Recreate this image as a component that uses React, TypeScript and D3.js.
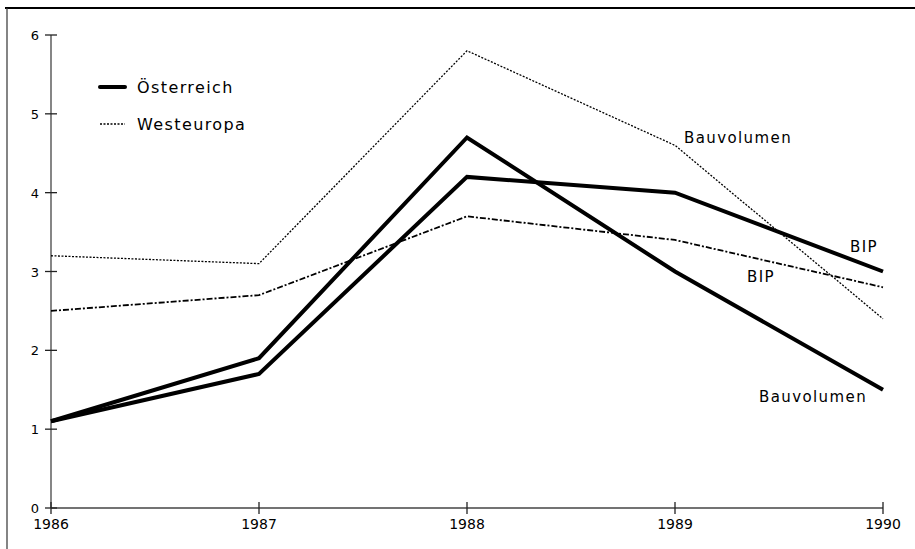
import React, { useEffect, useRef } from 'react';
import * as d3 from 'd3';

const years = [1986, 1987, 1988, 1989, 1990];
const yTicks = [0, 1, 2, 3, 4, 5, 6];
const atBau = [1.1, 1.9, 4.7, 3.0, 1.5];
const atBip = [1.1, 1.7, 4.2, 4.0, 3.0];
const weBau = [3.2, 3.1, 5.8, 4.6, 2.4];
const weBip = [2.5, 2.7, 3.7, 3.4, 2.8];

const FONT = '"DejaVu Sans", sans-serif';

export default function App() {
  const svgRef = useRef<SVGSVGElement | null>(null);

  useEffect(() => {
    if (!svgRef.current) return;
    const svg = d3.select(svgRef.current);
    svg.selectAll('*').remove();

    const x = d3.scaleLinear().domain([1986, 1990]).range([51, 883]);
    const y = d3.scaleLinear().domain([0, 6]).range([508, 35]);

    // frame
    svg.append('line').attr('x1', 5).attr('x2', 915).attr('y1', 8).attr('y2', 8)
      .attr('stroke', '#000').attr('stroke-width', 2.2);
    svg.append('line').attr('x1', 7).attr('x2', 7).attr('y1', 8).attr('y2', 549)
      .attr('stroke', '#333').attr('stroke-width', 1.2);

    // axes
    const g = svg.append('g');
    g.append('line').attr('x1', x(1986)).attr('x2', x(1990)).attr('y1', y(0)).attr('y2', y(0))
      .attr('stroke', '#444').attr('stroke-width', 1.3);
    g.append('line').attr('x1', x(1986)).attr('x2', x(1986)).attr('y1', y(0)).attr('y2', y(6))
      .attr('stroke', '#444').attr('stroke-width', 1.3);

    yTicks.forEach((t) => {
      g.append('line')
        .attr('x1', x(1986) - 6).attr('x2', x(1986) + 6)
        .attr('y1', y(t)).attr('y2', y(t)).attr('stroke', '#222').attr('stroke-width', 1.3);
      g.append('text').attr('x', 39).attr('y', y(t) + 5).attr('text-anchor', 'end')
        .attr('font-family', FONT).attr('font-size', 13).text(String(t));
    });

    years.forEach((yr) => {
      g.append('line').attr('x1', x(yr)).attr('x2', x(yr)).attr('y1', y(0) - 6).attr('y2', y(0) + 6)
        .attr('stroke', '#222').attr('stroke-width', 1.3);
      g.append('text').attr('x', x(yr)).attr('y', y(0) + 21).attr('text-anchor', 'middle')
        .attr('font-family', FONT).attr('font-size', 14).text(String(yr));
    });

    const line = d3.line<number>().x((_, i) => x(years[i])).y((d) => y(d));

    const series = [
      { v: weBau, w: 1.3, dash: '2,1.5' },
      { v: weBip, w: 1.8, dash: '6,2,2,2' },
      { v: atBip, w: 4, dash: null },
      { v: atBau, w: 4, dash: null },
    ];
    series.forEach((s) => {
      svg.append('path').attr('d', line(s.v) as string).attr('fill', 'none')
        .attr('stroke', '#000').attr('stroke-width', s.w)
        .attr('stroke-linejoin', 'miter')
        .attr('stroke-dasharray', s.dash ?? null);
    });

    // legend
    const lg = svg.append('g').attr('font-family', FONT).attr('font-size', 16)
      .attr('letter-spacing', 1.4);
    lg.append('line').attr('x1', 100).attr('x2', 125).attr('y1', 87).attr('y2', 87)
      .attr('stroke', '#000').attr('stroke-width', 4).attr('stroke-linecap', 'round');
    lg.append('text').attr('x', 137).attr('y', 93).text('Österreich');
    lg.append('line').attr('x1', 100).attr('x2', 125).attr('y1', 124).attr('y2', 124)
      .attr('stroke', '#000').attr('stroke-width', 1.3).attr('stroke-dasharray', '2,1.5');
    lg.append('text').attr('x', 137).attr('y', 130).text('Westeuropa');

    // line labels
    const labels = [
      { t: 'Bauvolumen', x: 684, y: 143 },
      { t: 'BIP', x: 850, y: 252 },
      { t: 'BIP', x: 747, y: 282 },
      { t: 'Bauvolumen', x: 759, y: 402 },
    ];
    labels.forEach((l) => {
      svg.append('text').attr('x', l.x).attr('y', l.y).attr('font-family', FONT)
        .attr('font-size', 15).attr('letter-spacing', 1.4).text(l.t);
    });
  }, []);

  return (
    <svg ref={svgRef} width={915} height={549}
      style={{ position: 'absolute', left: 0, top: 0, background: '#fff' }} />
  );
}
